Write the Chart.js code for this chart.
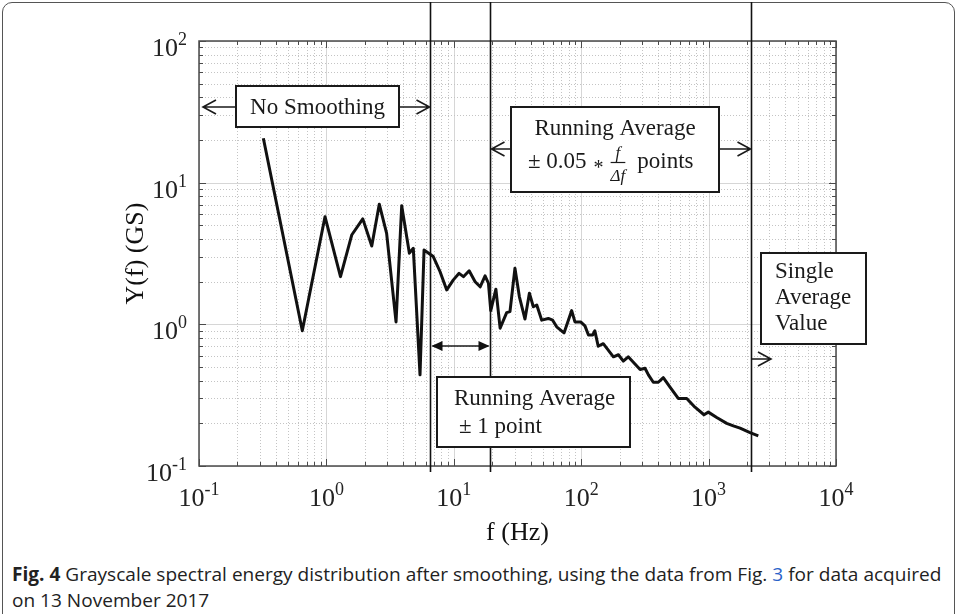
<!DOCTYPE html>
<html>
<head>
<meta charset="utf-8">
<title>Fig. 4</title>
<script src="https://cdn.jsdelivr.net/npm/chart.js@4.4.1/dist/chart.umd.min.js"></script>
<style>
  html, body { margin: 0; padding: 0; background: #fff; }
  #figure { position: relative; width: 958px; height: 614px; overflow: hidden; }
  #frame {
    position: absolute; left: 2px; top: 2px; width: 953px; height: 660px;
    border: 1.5px solid #555; border-radius: 10px; box-sizing: border-box;
  }
  #plot { position: absolute; left: 0; top: 0; }
  .caption {
    position: absolute; left: 12px; font-family: "Open Sans", sans-serif;
    font-size: 19px; line-height: 26px; color: #222; white-space: nowrap;
    transform-origin: 0 0;
  }
  .caption b { font-weight: 700; }
  .caption .ref { color: #2a63c9; }
</style>
</head>
<body>
<div id="figure">
  <div id="frame"></div>
  <canvas id="plot" width="958" height="560"></canvas>
  <div class="caption" id="cap1" style="top:561px"><b>Fig. 4</b> Grayscale spectral energy distribution after smoothing, using the data from Fig. <span class="ref">3</span> for data acquired</div>
  <div class="caption" id="cap2" style="top:587px">on 13 November 2017</div>
</div>

<script>
// ---------------------------------------------------------
// DATA
// ---------------------------------------------------------
const freqHz = [
  0.32, 0.647, 0.975, 1.29, 1.58, 1.93, 2.27, 2.60, 2.97, 3.52,
  3.90, 4.48, 4.81, 5.43, 5.84, 6.90, 7.79, 8.80, 9.92, 11.0,
  11.9, 13.2, 14.7, 16.1, 17.6, 18.7, 19.5, 21.4, 23.1, 26.0,
  27.6, 30.2, 32.7, 36.2, 39.2, 42.1, 44.8, 49.0, 55.2, 59.7,
  64.2, 73.3, 84.2, 89.3, 99.0, 107, 114, 123, 128, 136,
  149, 179, 196, 214, 234, 290, 317, 337, 368, 403,
  441, 498, 578, 673, 782, 920, 995, 1158, 1387, 1564,
  1766, 2115, 2455
];
const energyGs = [
  20.6, 0.90, 5.75, 2.17, 4.27, 5.55, 3.57, 7.05, 4.39, 1.04,
  6.86, 3.18, 3.44, 0.44, 3.35, 3.01, 2.36, 1.75, 2.06, 2.29,
  2.17, 2.39, 2.00, 1.84, 2.20, 1.95, 1.25, 1.77, 0.94, 1.21,
  1.23, 2.49, 1.57, 1.09, 1.66, 1.33, 1.37, 1.07, 1.10, 1.07,
  0.96, 0.87, 1.25, 1.04, 1.04, 0.975, 0.84, 0.84, 0.90, 0.70,
  0.73, 0.59, 0.61, 0.55, 0.59, 0.48, 0.49, 0.44, 0.39, 0.39,
  0.42, 0.36, 0.30, 0.30, 0.26, 0.23, 0.24, 0.22, 0.20, 0.192,
  0.185, 0.172, 0.163
];

// smoothing region boundaries (Hz)
const boundaryHz = [6.45, 19.1, 2150];

// decade exponents used for ticks / labels
const xTickExponents = [-1, 0, 1, 2, 3, 4];
const yTickExponents = [-1, 0, 1, 2];
const minorMultipliers = [2, 3, 4, 5, 6, 7, 8, 9];

const SERIF = '"Liberation Serif", "Times New Roman", serif';

// ---------------------------------------------------------
// HELPERS
// ---------------------------------------------------------
function openArrow(ctx, fromX, y, tipX) {
  const dir = tipX > fromX ? 1 : -1;
  ctx.beginPath();
  ctx.moveTo(fromX, y);
  ctx.lineTo(tipX, y);
  ctx.moveTo(tipX - dir * 13, y - 7);
  ctx.lineTo(tipX, y);
  ctx.lineTo(tipX - dir * 13, y + 7);
  ctx.stroke();
}

function filledHead(ctx, tipX, y, dir) {
  ctx.beginPath();
  ctx.moveTo(tipX, y);
  ctx.lineTo(tipX - dir * 11, y - 5);
  ctx.lineTo(tipX - dir * 11, y + 5);
  ctx.closePath();
  ctx.fill();
}

function box(ctx, x1, y1, x2, y2) {
  ctx.fillStyle = '#fff';
  ctx.fillRect(x1, y1, x2 - x1, y2 - y1);
  ctx.lineWidth = 2;
  ctx.strokeStyle = '#1a1a1a';
  ctx.strokeRect(x1, y1, x2 - x1, y2 - y1);
}

// "10" with a superscript exponent
function powerLabel(ctx, exp, x, y, align) {
  const base = '10', sup = String(exp);
  ctx.font = '26px ' + SERIF;
  const wb = ctx.measureText(base).width;
  ctx.font = '18px ' + SERIF;
  const ws = ctx.measureText(sup).width;
  const left = align === 'center' ? x - (wb + ws) / 2 : x - (wb + ws);
  ctx.textAlign = 'left';
  ctx.textBaseline = 'alphabetic';
  ctx.fillStyle = '#222';
  ctx.font = '26px ' + SERIF;
  ctx.fillText(base, left, y);
  ctx.font = '18px ' + SERIF;
  ctx.fillText(sup, left + wb, y - 11);
}

// ---------------------------------------------------------
// PLUGIN: grid, frame, labels and annotations
// ---------------------------------------------------------
const logFramePlugin = {
  id: 'logFrame',

  beforeDatasetsDraw(chart) {
    const { ctx, chartArea: a, scales: { x, y } } = chart;
    ctx.save();
    ctx.lineWidth = 1;

    xTickExponents.forEach(e => {
      [1, ...minorMultipliers].forEach(m => {
        const v = m * Math.pow(10, e);
        if (v < x.min || v > x.max) return;
        const px = Math.round(x.getPixelForValue(v)) + 0.5;
        ctx.strokeStyle = m === 1 ? '#d6d6d6' : '#c4c4c4';
        ctx.setLineDash(m === 1 ? [] : [1, 2]);
        ctx.beginPath();
        ctx.moveTo(px, a.top);
        ctx.lineTo(px, a.bottom);
        ctx.stroke();
      });
    });

    yTickExponents.forEach(e => {
      [1, ...minorMultipliers].forEach(m => {
        const v = m * Math.pow(10, e);
        if (v < y.min || v > y.max) return;
        const py = Math.round(y.getPixelForValue(v)) + 0.5;
        ctx.strokeStyle = m === 1 ? '#d6d6d6' : '#c4c4c4';
        ctx.setLineDash(m === 1 ? [] : [1, 2]);
        ctx.beginPath();
        ctx.moveTo(a.left, py);
        ctx.lineTo(a.right, py);
        ctx.stroke();
      });
    });
    ctx.restore();
  },

  afterDatasetsDraw(chart) {
    const { ctx, chartArea: a, scales: { x, y } } = chart;
    ctx.save();

    // axes box + inward ticks on all sides
    ctx.strokeStyle = '#4a4a4a';
    ctx.lineWidth = 1.5;
    ctx.strokeRect(a.left, a.top, a.right - a.left, a.bottom - a.top);

    ctx.lineWidth = 1;
    ctx.beginPath();
    xTickExponents.forEach(e => {
      [1, ...minorMultipliers].forEach(m => {
        const v = m * Math.pow(10, e);
        if (v < x.min || v > x.max) return;
        const px = Math.round(x.getPixelForValue(v)) + 0.5;
        const len = m === 1 ? 7 : 4;
        ctx.moveTo(px, a.bottom); ctx.lineTo(px, a.bottom - len);
        ctx.moveTo(px, a.top); ctx.lineTo(px, a.top + len);
      });
    });
    yTickExponents.forEach(e => {
      [1, ...minorMultipliers].forEach(m => {
        const v = m * Math.pow(10, e);
        if (v < y.min || v > y.max) return;
        const py = Math.round(y.getPixelForValue(v)) + 0.5;
        const len = m === 1 ? 7 : 4;
        ctx.moveTo(a.left, py); ctx.lineTo(a.left + len, py);
        ctx.moveTo(a.right, py); ctx.lineTo(a.right - len, py);
      });
    });
    ctx.stroke();

    // tick labels
    xTickExponents.forEach(e => {
      powerLabel(ctx, e, x.getPixelForValue(Math.pow(10, e)), a.bottom + 40, 'center');
    });
    yTickExponents.forEach(e => {
      powerLabel(ctx, e, a.left - 12, y.getPixelForValue(Math.pow(10, e)) + 15, 'right');
    });

    // axis titles
    ctx.fillStyle = '#111';
    ctx.font = '26px ' + SERIF;
    ctx.textAlign = 'center';
    ctx.textBaseline = 'alphabetic';
    ctx.fillText('f (Hz)', (a.left + a.right) / 2, a.bottom + 74);
    ctx.save();
    ctx.translate(a.left - 56, (a.top + a.bottom) / 2);
    ctx.rotate(-Math.PI / 2);
    ctx.fillText('Y(f) (GS)', 0, 0);
    ctx.restore();

    // region boundaries
    const bx = boundaryHz.map(f => Math.round(x.getPixelForValue(f)) + 0.5);
    ctx.strokeStyle = '#111';
    ctx.lineWidth = 1.6;
    ctx.beginPath();
    bx.forEach(px => { ctx.moveTo(px, 2); ctx.lineTo(px, a.bottom + 6); });
    ctx.stroke();

    // "No Smoothing"
    ctx.lineWidth = 1.6;
    ctx.strokeStyle = '#1a1a1a';
    openArrow(ctx, 236, 107, a.left + 4);
    openArrow(ctx, 399, 107, bx[0] - 1);
    box(ctx, 236, 86, 399, 127);
    ctx.fillStyle = '#1a1a1a';
    ctx.font = '23px ' + SERIF;
    ctx.textAlign = 'center';
    ctx.fillText('No Smoothing', 317.5, 114);

    // "Running Average ± 0.05 * f/Δf points"
    ctx.lineWidth = 1.6;
    ctx.strokeStyle = '#1a1a1a';
    openArrow(ctx, 511, 149, bx[1] + 1);
    openArrow(ctx, 719, 149, bx[2] - 1);
    box(ctx, 511, 107, 719, 192);
    ctx.fillStyle = '#1a1a1a';
    ctx.font = '23px ' + SERIF;
    ctx.textAlign = 'center';
    ctx.fillText('Running Average', 615, 135);
    ctx.textAlign = 'left';
    let cx = 528;
    ctx.fillText('\u00b1 0.05', cx, 168);
    cx += ctx.measureText('\u00b1 0.05').width + 7;
    ctx.font = '20px ' + SERIF;
    ctx.fillText('*', cx, 174);
    cx += ctx.measureText('*').width + 7;
    ctx.font = 'italic 17px ' + SERIF;
    const wDen = ctx.measureText('\u0394f').width;
    ctx.textAlign = 'center';
    ctx.fillText('f', cx + wDen / 2, 158);
    ctx.fillText('\u0394f', cx + wDen / 2, 181);
    ctx.lineWidth = 1.2;
    ctx.beginPath();
    ctx.moveTo(cx, 162.5);
    ctx.lineTo(cx + wDen, 162.5);
    ctx.stroke();
    ctx.font = '23px ' + SERIF;
    ctx.textAlign = 'left';
    ctx.fillText('points', cx + wDen + 12, 168);

    // "Running Average ± 1 point"
    ctx.lineWidth = 1.6;
    ctx.beginPath();
    ctx.moveTo(bx[0] + 2, 346);
    ctx.lineTo(bx[1] - 2, 346);
    ctx.stroke();
    ctx.fillStyle = '#111';
    filledHead(ctx, bx[0] + 1, 346, -1);
    filledHead(ctx, bx[1] - 1, 346, 1);
    box(ctx, 437, 377, 630, 447);
    ctx.fillStyle = '#1a1a1a';
    ctx.font = '23px ' + SERIF;
    ctx.textAlign = 'left';
    ctx.fillText('Running Average', 454, 405);
    ctx.fillText('\u00b1 1 point', 459, 433);

    // "Single Average Value"
    ctx.lineWidth = 1.6;
    ctx.strokeStyle = '#1a1a1a';
    openArrow(ctx, bx[2], 359, 771);
    box(ctx, 761, 253, 866, 344);
    ctx.fillStyle = '#1a1a1a';
    ctx.font = '23px ' + SERIF;
    ctx.textAlign = 'left';
    ctx.fillText('Single', 775, 278);
    ctx.fillText('Average', 775, 304);
    ctx.fillText('Value', 775, 330);

    ctx.restore();
  }
};

// ---------------------------------------------------------
// CHART
// ---------------------------------------------------------
const points = freqHz.map((f, i) => ({ x: f, y: energyGs[i] }));

new Chart(document.getElementById('plot'), {
  type: 'scatter',
  data: {
    datasets: [{
      data: points,
      showLine: true,
      borderColor: '#111',
      borderWidth: 3,
      pointRadius: 0,
      tension: 0,
      borderJoinStyle: 'round'
    }]
  },
  options: {
    responsive: false,
    animation: false,
    devicePixelRatio: 1,
    layout: { padding: { left: 199, right: 122, top: 41, bottom: 94 } },
    plugins: { legend: { display: false }, tooltip: { enabled: false } },
    scales: {
      x: { type: 'logarithmic', min: 0.1, max: 10000, display: false },
      y: { type: 'logarithmic', min: 0.1, max: 100, display: false }
    }
  },
  plugins: [logFramePlugin]
});

// caption is set in a narrow face; squeeze line 1 to the frame width
const cap1 = document.getElementById('cap1');
const cap2 = document.getElementById('cap2');
const squeeze = 929 / cap1.scrollWidth;
cap1.style.transform = 'scaleX(' + squeeze + ')';
cap2.style.transform = 'scaleX(' + squeeze + ')';
</script>
</body>
</html>
